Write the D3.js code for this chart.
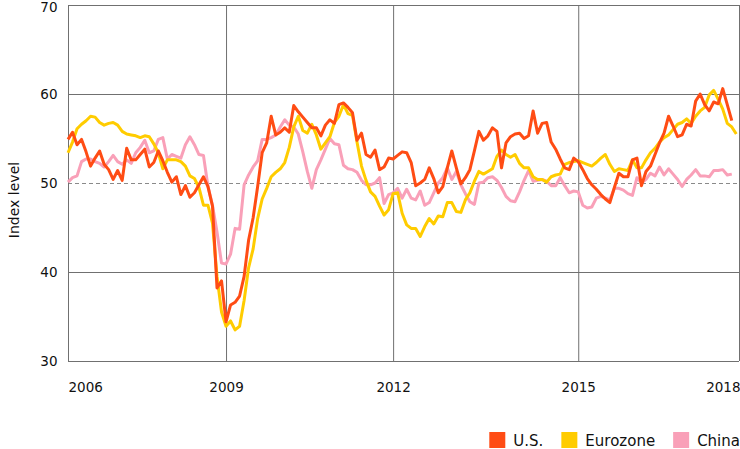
<!DOCTYPE html>
<html>
<head>
<meta charset="utf-8">
<script src="https://cdn.jsdelivr.net/npm/d3@7"></script>
<style>
  html, body { margin: 0; padding: 0; background: #ffffff; }
  svg { display: block; font-family: "DejaVu Sans", sans-serif; }
</style>
</head>
<body>
<svg id="chart" width="740" height="449"></svg>
<script>
// ---- data (monthly, starting Jan 2006) ----
const seriesNames = ["U.S.", "Eurozone", "China"];

const us = [
  54.9, 55.7, 54.3, 54.9, 53.5, 51.9, 52.8, 53.6, 52.1, 51.5, 50.4, 51.4,
  50.3, 53.9, 52.6, 52.6, 53.2, 53.8, 51.8, 52.3, 53.6, 52.5, 51.2, 50.1,
  50.7, 48.7, 49.7, 48.4, 48.9, 49.8, 50.7, 49.6, 47.4, 38.2, 39.0, 34.4,
  36.3, 36.6, 37.3, 39.5, 43.6, 46.1, 49.6, 53.4, 54.5, 57.5, 55.4, 55.7,
  56.2, 55.7, 58.7, 58.0, 57.4, 56.8, 56.2, 56.2, 55.3, 56.5, 57.1, 56.7,
  58.8, 59.0, 58.5, 57.9, 54.8, 55.6, 53.2, 52.9, 53.7, 51.5, 51.8, 52.8,
  52.7, 53.1, 53.5, 53.4, 52.3, 49.7, 50.0, 50.4, 51.7, 50.5, 48.9, 49.6,
  51.7, 53.6, 51.7, 49.9, 50.6, 51.5, 53.6, 55.8, 54.8, 55.3, 56.2, 55.8,
  51.7, 54.5, 55.2, 55.5, 55.6, 55.0, 55.3, 58.1, 55.6, 56.7, 56.8, 54.6,
  53.8, 52.7, 51.7, 51.5, 52.8, 52.4, 51.5, 50.5, 49.8, 49.3, 48.7, 48.2,
  47.8, 49.5, 51.1, 50.7, 50.7, 52.6, 52.8, 49.7, 51.3, 51.9, 53.2, 54.5,
  55.6, 57.5, 56.4, 55.2, 55.4, 56.6, 56.4, 59.2, 60.0, 58.8, 58.1, 59.1,
  58.9, 60.6, 58.8, 57.0
];

const eurozone = [
  53.4, 54.6, 56.1, 56.6, 57.0, 57.5, 57.4, 56.8, 56.5, 56.7, 56.8, 56.5,
  55.8, 55.5, 55.4, 55.3, 55.1, 55.3, 55.2, 54.4, 53.4, 51.6, 52.6, 52.6,
  52.6, 52.4, 51.9, 50.8, 50.5, 49.5, 47.5, 47.5, 45.5, 39.5, 35.5, 33.9,
  34.5, 33.5, 33.9, 36.8, 40.5, 42.6, 46.0, 48.2, 49.4, 50.7, 51.2, 51.6,
  52.3, 54.0, 56.3, 57.5, 55.9, 55.6, 56.6, 55.4, 53.8, 54.5, 55.2, 56.8,
  57.5, 58.8, 57.8, 57.6, 54.6, 51.9, 50.3, 49.0, 48.5, 47.4, 46.4, 47.0,
  48.8, 48.9, 46.6, 45.3, 44.9, 44.9, 44.0, 45.1, 46.0, 45.4, 46.3, 46.2,
  47.8, 47.8, 46.8, 46.7, 48.1, 48.9, 50.2, 51.3, 51.0, 51.3, 51.6, 53.0,
  53.7, 53.2, 52.9, 53.2, 52.2, 51.7, 51.7, 50.7, 50.4, 50.4, 50.1, 50.7,
  50.9, 51.0, 52.1, 52.3, 52.4, 52.5, 52.3, 52.1, 51.9, 52.3, 52.8, 53.2,
  52.1, 51.3, 51.6, 51.5, 51.4, 52.6, 51.7, 51.7, 52.6, 53.4, 53.9, 54.6,
  55.1, 55.4, 56.0, 56.6, 56.8, 57.2, 56.7, 57.5, 58.1, 58.5, 59.9, 60.4,
  59.4, 58.3, 56.7, 56.3, 55.5
];

const china = [
  50.1, 50.6, 50.8, 52.4, 52.7, 52.7, 52.4, 52.2, 51.8, 52.4, 53.1, 52.4,
  52.1, 52.6, 52.2, 53.4, 54.0, 54.8, 53.4, 53.6, 54.9, 55.1, 52.7, 53.2,
  53.0, 52.8, 54.3, 55.2, 54.3, 53.2, 53.1, 49.6, 47.5, 44.5, 41.0, 40.9,
  42.0, 44.9, 44.8, 49.8, 50.9, 51.8, 52.5, 54.9, 54.9, 55.1, 55.4, 56.3,
  57.1, 56.5, 56.3, 55.5, 53.5, 51.3, 49.4, 51.5, 52.6, 53.8, 55.0, 54.4,
  54.3, 52.0, 51.6, 51.5, 51.2, 50.3, 49.8, 49.8, 50.0, 50.6, 47.7, 48.7,
  48.9, 49.4, 48.3, 49.3, 48.3, 48.1, 49.1, 47.5, 47.8, 48.9, 50.0, 50.6,
  51.7, 50.4, 51.3, 49.8, 48.8, 47.9, 47.6, 50.0, 50.1, 50.6, 50.7, 50.3,
  49.5, 48.5, 48.0, 47.9, 49.0, 50.3, 51.4, 50.2, 50.3, 50.4, 50.2, 49.7,
  49.7, 50.6, 49.7, 48.9, 49.1, 49.0, 47.5, 47.2, 47.3, 48.3, 48.5, 48.3,
  48.1, 49.4, 49.4, 49.2, 48.8, 48.6, 50.6, 50.0, 50.4, 51.1, 50.8, 51.8,
  50.9, 51.6, 51.0, 50.4, 49.6, 50.4, 50.9, 51.5, 50.8, 50.8, 50.7, 51.4,
  51.4, 51.5, 50.9, 51.0
];

// x tick labels and their month index (months since Jan 2006)
const xTickLabels = ["2006", "2009", "2012", "2015", "2018"];
const xTickIndex = [0, 35, 72, 113, 148.6];
const yTicks = [30, 40, 50, 60, 70];
const yTitle = "Index level";

// ---- styles ----
const colors = { "U.S.": "#ff4c14", "Eurozone": "#ffcc00", "China": "#f9a0b8" };
const gridColor = "#707070";

// ---- layout ----
const svg = d3.select("#chart");
const mLeft = 68, mRight = 739, mTop = 5, mBottom = 361;

const x = d3.scaleLinear().domain([0, 148.6]).range([mLeft, mRight]);
const y = d3.scaleLinear().domain([30, 70]).range([mBottom, mTop]);

// y axis with horizontal gridlines
const yAxis = svg.append("g")
  .attr("transform", `translate(${mLeft},0)`)
  .call(d3.axisLeft(y).tickValues(yTicks).tickSize(-(mRight - mLeft)).tickPadding(10.5));
yAxis.select(".domain").remove();
yAxis.selectAll(".tick line")
  .attr("stroke", d => d === 50 ? "#8a8a8a" : gridColor)
  .attr("stroke-dasharray", d => d === 50 ? "4,3" : null);
yAxis.selectAll(".tick text")
  .attr("fill", "#111")
  .attr("dy", d => d === 70 ? "0.45em" : "0.32em")
  .style("font-size", "13.5px")
  .style("font-family", "'DejaVu Sans', sans-serif");

// x axis with vertical gridlines
const xAxis = svg.append("g")
  .attr("transform", `translate(0,${mBottom})`)
  .call(d3.axisBottom(x).tickValues(xTickIndex)
    .tickFormat((d, i) => xTickLabels[i])
    .tickSize(-(mBottom - mTop)).tickPadding(21));
xAxis.select(".domain").remove();
xAxis.selectAll(".tick line").attr("stroke", gridColor);
xAxis.selectAll(".tick text")
  .attr("fill", "#111")
  .style("font-size", "13.5px")
  .style("font-family", "'DejaVu Sans', sans-serif")
  .attr("text-anchor", (d, i) => i === 0 ? "start" : (i === xTickIndex.length - 1 ? "end" : "middle"))
  .attr("dx", (d, i) => i === xTickIndex.length - 1 ? 1 : 0);

// y axis title
svg.append("text")
  .attr("transform", `translate(19,200) rotate(-90)`)
  .attr("text-anchor", "middle")
  .attr("fill", "#111")
  .style("font-size", "14px")
  .text(yTitle);

// lines
const line = d3.line()
  .x((d, i) => x(i))
  .y(d => y(d));

const seriesData = { "U.S.": us, "Eurozone": eurozone, "China": china };
["China", "Eurozone", "U.S."].forEach(name => {
  svg.append("path")
    .datum(seriesData[name])
    .attr("fill", "none")
    .attr("stroke", colors[name])
    .attr("stroke-width", 3)
    .attr("stroke-linejoin", "round")
    .attr("stroke-linecap", "butt")
    .attr("d", line);
});

// legend (right aligned at the chart's right edge)
const legend = svg.append("g");
let cursor = 0;
seriesNames.forEach((name) => {
  const g = legend.append("g");
  g.append("rect")
    .attr("x", cursor).attr("y", 432)
    .attr("width", 16).attr("height", 16)
    .attr("fill", colors[name]);
  const t = g.append("text")
    .attr("x", cursor + 24).attr("y", 445.5)
    .attr("fill", "#111")
    .style("font-size", "15px")
    .text(name);
  const w = t.node().getComputedTextLength();
  cursor += 24 + w + 18;
});
const totalW = cursor - 18;
legend.attr("transform", `translate(${740 - totalW},0)`);
</script>
</body>
</html>
